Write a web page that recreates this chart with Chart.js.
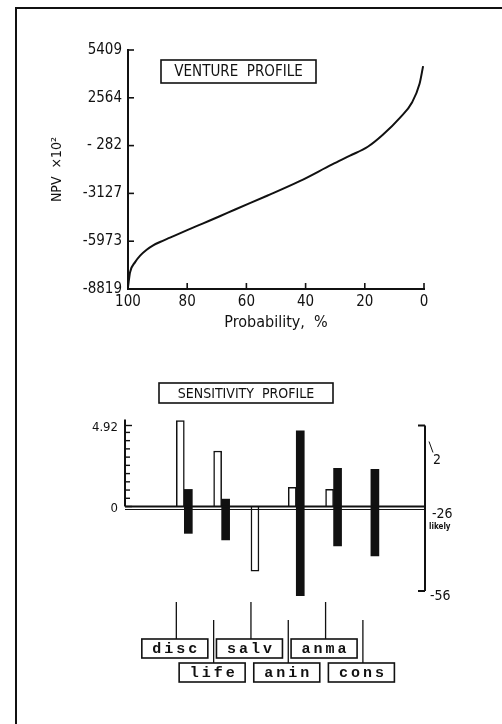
<!DOCTYPE html>
<html lang="en">
<head>
<meta charset="UTF-8">
<title>venture and sensitivity profile</title>
<script src="https://cdn.jsdelivr.net/npm/chart.js@4.4.0/dist/chart.umd.min.js"></script>
<style>
  body { margin: 0; background: #fff; }
  .page { position: relative; width: 502px; height: 724px; overflow: hidden; }
  .frame { position: absolute; left: 15px; top: 7px; width: 520px; height: 740px;
           border-left: 2px solid #111; border-top: 2px solid #111; }
  .top { position: absolute; left: 0; top: 0; }
  .bottom { position: absolute; left: 0; top: 360px; }
</style>
</head>
<body>
<div class="page">
  <div class="frame"></div>
  <div class="top"><canvas id="ventureChart" width="502" height="360"></canvas></div>
  <div class="bottom"><canvas id="sensChart" width="502" height="364"></canvas></div>
</div>
<script>
// venture profile (NPV x10^2 against probability of exceeding)
const probability = [100, 99.3, 97.6, 95.9, 93.7, 91.5, 89.2, 85.8, 80.2, 74.6, 69, 64, 53, 42, 31, 25, 19, 14, 8, 4, 1.5, 0.3];
const npv = [-8700, -7820, -7220, -6830, -6480, -6220, -6020, -5760, -5330, -4910, -4490, -4100, -3270, -2400, -1400, -880, -350, 350, 1400, 2300, 3400, 4450];
const npvTicks = [-8819, -5973, -3127, -282, 2564, 5409];
const npvTickLabels = ['-8819', '-5973', '-3127', '- 282', '2564', '5409'];
const probTicks = [100, 80, 60, 40, 20, 0];

// sensitivity profile
const factors = ['disc', 'life', 'salv', 'anin', 'anma', 'cons'];
const sensCoef = [5.22, 3.37, -3.93, 1.16, 1.04, null];   // white bars, left axis (log)
const npvLow = [-35.8, -38.1, null, -57.6, -40.2, -43.7]; // black bars, right axis x10^4
const npvHigh = [-20.4, -23.8, null, 0.1, -13, -13.4];
const sensTicks = [0, 4.92];
const sensMinor = [0.5, 1, 1.5, 2, 2.5, 3, 3.5, 4, 4.5];
const avgTicks = [2, -26, -56];

const INK = '#111';
const SANS = "'DejaVu Sans Condensed', 'Liberation Sans Narrow', 'DejaVu Sans', sans-serif";

function line(ctx, x1, y1, x2, y2) {
  ctx.beginPath(); ctx.moveTo(x1, y1); ctx.lineTo(x2, y2); ctx.stroke();
}
function boxText(ctx, text, cx, cy, w, h, font, spacing) {
  ctx.save();
  ctx.font = font;
  if (spacing) ctx.letterSpacing = spacing + 'px';
  ctx.fillStyle = INK; ctx.strokeStyle = INK; ctx.lineWidth = 1.6;
  ctx.strokeRect(cx - w / 2, cy - h / 2, w, h);
  ctx.textAlign = 'center'; ctx.textBaseline = 'middle';
  ctx.fillText(text, cx + (spacing ? spacing / 2 : 0), cy + 1);
  ctx.restore();
}

const ventureDecor = {
  id: 'ventureDecor',
  afterDraw(chart) {
    const {ctx, chartArea: a, scales: {x, y}} = chart;
    ctx.save();
    ctx.strokeStyle = INK; ctx.lineWidth = 1.6;
    y.ticks.forEach(t => { const py = y.getPixelForValue(t.value); line(ctx, a.left, py, a.left + 6, py); });
    x.ticks.forEach(t => { const px = x.getPixelForValue(t.value); line(ctx, px, a.bottom, px, a.bottom - 6); });
    ctx.restore();
    boxText(ctx, 'VENTURE  PROFILE', 238.5, 71.5, 155, 23, '15px ' + SANS);
  }
};

new Chart(document.getElementById('ventureChart'), {
  type: 'scatter',
  data: {
    datasets: [{
      data: probability.map((p, i) => ({x: p, y: npv[i]})),
      showLine: true, borderColor: INK, borderWidth: 2, pointRadius: 0,
      cubicInterpolationMode: 'monotone', clip: false
    }]
  },
  options: {
    responsive: false, animation: false, events: [],
    layout: {padding: {left: 0, top: 50, right: 78, bottom: 0}},
    plugins: {legend: {display: false}, tooltip: {enabled: false}},
    scales: {
      x: {
        type: 'linear', reverse: true, min: 0, max: 100,
        grid: {display: false, drawTicks: false, tickLength: 0}, border: {color: INK, width: 2},
        afterBuildTicks: s => { s.ticks = probTicks.map(v => ({value: v})); },
        afterFit: s => { s.height = 71; },
        ticks: {color: INK, padding: 4, maxRotation: 0, font: {family: SANS, size: 15}},
        title: {display: true, text: 'Probability,  %', color: INK,
                font: {family: SANS, size: 16}, padding: {top: 0, bottom: 28}}
      },
      y: {
        min: -8819, max: 5409,
        grid: {display: false, drawTicks: false, tickLength: 0}, border: {color: INK, width: 2},
        afterBuildTicks: s => { s.ticks = npvTicks.map(v => ({value: v})); },
        afterFit: s => { s.width = 128; },
        ticks: {color: INK, padding: 6, font: {family: SANS, size: 15},
                callback: (v, i) => npvTickLabels[i]},
        title: {display: true, text: 'NPV  ×10²', color: INK,
                font: {family: SANS, size: 14}, padding: {top: 49, bottom: 0}}
      }
    }
  },
  plugins: [ventureDecor]
});

const sensDecor = {
  id: 'sensDecor',
  afterDraw(chart) {
    const {ctx, chartArea: a, scales: {x, ySens, yNpv}} = chart;
    const y0 = ySens.getPixelForValue(0);
    ctx.save();
    ctx.strokeStyle = INK; ctx.fillStyle = INK; ctx.lineWidth = 2;
    // left axis and ticks
    line(ctx, a.left, a.top - 6, a.left, y0);
    ctx.lineWidth = 1.4;
    sensMinor.forEach(v => { const py = ySens.getPixelForValue(v); line(ctx, a.left, py, a.left + 5, py); });
    sensTicks.forEach(v => { const py = ySens.getPixelForValue(v); line(ctx, a.left, py, a.left + 7, py); });
    ctx.font = '13px ' + SANS; ctx.textAlign = 'right'; ctx.textBaseline = 'middle';
    sensTicks.forEach(v => ctx.fillText(String(v), a.left - 7, ySens.getPixelForValue(v) + 2));
    // double base line
    ctx.lineWidth = 1.8;
    line(ctx, a.left, y0, a.right, y0);
    ctx.lineWidth = 1.2;
    line(ctx, a.left, y0 + 3, a.right, y0 + 3);
    // right bracket axis
    const yTop = yNpv.getPixelForValue(avgTicks[0]);
    const yBot = yNpv.getPixelForValue(avgTicks[2]);
    const yMid = yNpv.getPixelForValue(avgTicks[1]);
    ctx.lineWidth = 2;
    line(ctx, a.right, yTop, a.right, yBot);
    line(ctx, a.right - 7, yTop, a.right, yTop);
    line(ctx, a.right - 7, yBot, a.right, yBot);
    ctx.lineWidth = 1;
    line(ctx, a.right + 4, yTop + 16, a.right + 8, yTop + 27);
    ctx.font = '14px ' + SANS; ctx.textAlign = 'left';
    ctx.fillText(String(avgTicks[0]), a.right + 8, yTop + 35);
    ctx.fillText(String(avgTicks[1]), a.right + 7, yMid + 9);
    ctx.fillText(String(avgTicks[2]), a.right + 5, yBot + 5);
    ctx.font = 'bold 8px ' + SANS;
    ctx.fillText('likely', a.right + 4, yMid + 22);
    // axis titles
    ctx.textAlign = 'center';
    ctx.save();
    ctx.translate(470, 510); ctx.rotate(-Math.PI / 2);
    ctx.font = '15px ' + SANS;
    ctx.fillText('NPV  average  ×10⁴', 0, 0);
    ctx.restore();
    ctx.save();
    ctx.translate(57, 460); ctx.rotate(-Math.PI / 2);
    ctx.font = '13px ' + SANS;
    ctx.fillText('Sensitivity', 0, 0);
    ctx.fillText('coef. (log)', 0, 15);
    ctx.restore();
    // factor labels with leader lines
    ctx.lineWidth = 1.3;
    factors.forEach((f, i) => {
      const px = x.getPixelForValue(i + 1) - 8;
      const row = i % 2;
      const yStart = row ? 260 : 242;
      const yBox = row ? 303 : 279;
      line(ctx, px, yStart, px, yBox);
      boxText(ctx, f, px - 1.5, yBox + 9.5, 66, 19, "bold 15px 'Liberation Mono', 'DejaVu Sans Mono', monospace", 3);
    });
    ctx.restore();
    boxText(ctx, 'SENSITIVITY  PROFILE', 246, 33, 174, 20, '14px ' + SANS);
  }
};

new Chart(document.getElementById('sensChart'), {
  type: 'bar',
  data: {
    datasets: [{
      label: 'Sensitivity coef. (log)',
      data: factors.map((f, i) => ({x: i + 1, y: sensCoef[i]})).filter(d => d.y !== null),
      yAxisID: 'ySens', backgroundColor: '#fff', borderColor: INK, borderWidth: 1.5,
      barThickness: 8, clip: false
    }, {
      label: 'NPV average',
      data: factors.map((f, i) => ({x: i + 1, y: [npvLow[i], npvHigh[i]]})).filter(d => d.y[0] !== null),
      yAxisID: 'yNpv', backgroundColor: INK, borderWidth: 0,
      barThickness: 8, clip: false
    }]
  },
  options: {
    responsive: false, animation: false, events: [],
    layout: {padding: {left: 125, right: 77, top: 65.5, bottom: 133}},
    plugins: {legend: {display: false}, tooltip: {enabled: false}},
    scales: {
      x: {type: 'linear', min: -0.59, max: 7.45, offset: false, display: false},
      ySens: {position: 'left', min: -5.13, max: 4.92, display: false},
      yNpv: {position: 'right', min: -56, max: 2, display: false}
    }
  },
  plugins: [sensDecor]
});
</script>
</body>
</html>
